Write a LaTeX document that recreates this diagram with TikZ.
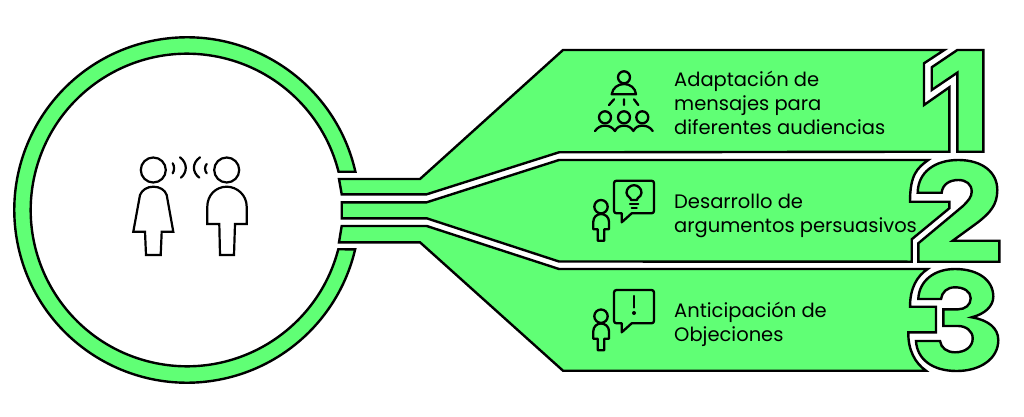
\documentclass[tikz,border=0pt]{standalone}
\usepackage{fontspec}
\setmainfont{Poppins}
\definecolor{brandgreen}{HTML}{60FF75}
\tikzset{
  band/.style={draw=black,fill=brandgreen,line width=2.4pt,line join=miter},
  icon/.style={draw=black,line width=2.3pt,line join=round,line cap=round},
  thin icon/.style={draw=black,line width=2.2pt,line join=miter,line cap=round},
  label/.style={anchor=west,align=left,inner sep=0pt,font=\fontsize{19.5}{24}\selectfont,text=black}
}
\begin{document}
\begin{tikzpicture}[x=1pt,y=-1pt]
\useasboundingbox (0,0) rectangle (1024,417);
\fill[white] (0,0) rectangle (1024,417);
% ring
\coordinate (c) at (187,210);
\draw[band] ([shift={(c)}]-12.8:172.7) arc[start angle=-12.8,end angle=-346.84,radius=172.7]
  -- ([shift={(c)}]14.56:156.3) arc[start angle=14.56,end angle=345.82,radius=156.3] -- cycle;
% band 1
\draw[band] (339,179) -- (420,179) -- (563,50) -- (944.3,50) -- (924,63.3) -- (924,105) -- (949.3,87.3)
  -- (949.3,151.7) -- (559,152.3) -- (426.7,194.3) -- (341.7,194.3) -- cycle;
% band 2
\draw[band] (341.7,202.3) -- (426.7,202.3) -- (559,160) -- (928.3,160)
  .. controls (917,168) and (910,175) .. (910,201.7) -- (949.3,201.7) -- (949.3,208.3) -- (911.7,239.3)
  -- (911.7,261.7) -- (559,261.5) -- (426.7,218.3) -- (341.7,218.3) -- cycle;
% band 3
\draw[band] (341.7,226) -- (426.7,226) -- (559,269) -- (927.7,269)
  .. controls (917,276) and (910,288) .. (910,306.7) -- (936,306.7) -- (936,332.3) -- (908.3,332.3)
  .. controls (908,350) and (915,363) .. (926,370.7) -- (563,370.7) -- (420,242.3) -- (339,242.3) -- cycle;
% one
\draw[band] (957.3,50) -- (983.3,50) -- (983.3,151.7) -- (957.3,151.7) -- (957.3,72.7) -- (931.7,90) -- (931.7,67.3) -- cycle;
% two
\draw[band] (917.7,192.7) .. controls (918,172) and (935,160) .. (958.3,160)
  .. controls (982,160) and (997.3,172) .. (997.3,190)
  .. controls (997.3,205) and (990,213) .. (977,223) -- (952.7,240.7) -- (999.3,240.7) -- (999.3,261.7) -- (918.3,261.7) -- (918.3,243.3)
  -- (963,206) .. controls (968,201) and (971.7,197) .. (971.7,191.7)
  .. controls (971.7,184) and (966,180) .. (958.3,180)
  .. controls (950,180) and (942.5,184) .. (941.7,192.7) -- cycle;
% three
\draw[band] (918.3,299) .. controls (919,281) and (934,269) .. (955,269)
  .. controls (978,269) and (993.3,280) .. (993.3,296.7)
  .. controls (993.3,306) and (985,314) .. (971.7,317.3)
  .. controls (988,320) and (998.3,328) .. (998.3,340)
  .. controls (998.3,359) and (980,371) .. (956.7,371)
  .. controls (932,371) and (917,359) .. (916,341) -- (940,341)
  .. controls (941,348) and (947,352.3) .. (955,352.3)
  .. controls (965,352.3) and (972.7,347) .. (972.7,338.3)
  .. controls (972.7,331) and (966,326) .. (958,326) -- (943.3,326) -- (943.3,309.3) -- (958.3,309.3)
  .. controls (965,309.3) and (970.7,305) .. (970.7,298.3)
  .. controls (970.7,291.5) and (964,287.3) .. (955,287.3)
  .. controls (947,287.3) and (942,292) .. (941,299) -- cycle;
% two people
\draw[thin icon] (153.3,170) circle[radius=12.5];
\draw[thin icon] (226.7,170) circle[radius=12.5];
\draw[thin icon] (133.3,231.7) -- (145,231.7) -- (146,255) -- (160.7,255) -- (161.7,231.7) -- (173.3,231.7) -- (166.7,195)
  .. controls (165,190) and (160,186.7) .. (153.3,186.7) .. controls (147,186.7) and (142,190) .. (140,195) -- cycle;
\draw[thin icon] (207.3,224) -- (219.3,224) -- (220,255) -- (234,255) -- (235,224) -- (246.7,224) -- (246.7,206.7)
  .. controls (246.7,195) and (237,186.7) .. (226.7,186.7) .. controls (216,186.7) and (207.3,195) .. (207.3,206.7) -- cycle;
\draw[thin icon] (172.7,163.3) .. controls (174.5,166) and (174.5,170.5) .. (172.7,173.3);
\draw[thin icon] (180,157.3) .. controls (187.5,163) and (187.5,172) .. (181,177.7);
\draw[thin icon] (200,157.3) .. controls (192,163) and (192,172) .. (199.3,177.7);
\draw[thin icon] (206.7,164) .. controls (204.5,166.5) and (204.5,170.5) .. (206.7,173.3);
% audience icon
\draw[icon] (624,77.3) circle[radius=6];
\draw[icon] (611.7,94.3) .. controls (612.5,88) and (618,84) .. (624,84) .. controls (630,84) and (635.5,88) .. (636,94.3) -- cycle;
\draw[icon] (609,105) -- (614,99.3) (624,99.3) -- (624,105) (634,99.3) -- (638.3,105);
\draw[icon] (605,117.3) circle[radius=6] (624,117.3) circle[radius=6] (642.3,117.3) circle[radius=6];
\draw[icon] (595,131) .. controls (598,127) and (601,125.7) .. (605,125.7) .. controls (609,125.7) and (612,127) .. (615,131)
  .. controls (617,127) and (620,125.7) .. (624,125.7) .. controls (628,125.7) and (631,127) .. (633.3,131)
  .. controls (635.5,127) and (638.5,125.7) .. (642.3,125.7) .. controls (646.5,125.7) and (650,127) .. (652.7,131);
% idea icon
\draw[icon] (616.5,180.7) -- (651.5,180.7) .. controls (653,180.7) and (654,181.7) .. (654,183.2) -- (654,210.8)
  .. controls (654,212.3) and (653,213.3) .. (651.5,213.3) -- (631.7,213.3) -- (621.7,222.3) -- (621.7,213.3) -- (616.5,213.3)
  .. controls (615,213.3) and (614,212.3) .. (614,210.8) -- (614,183.2) .. controls (614,181.7) and (615,180.7) .. (616.5,180.7) -- cycle;
\draw[icon] (631,200) -- (630.5,198.5) .. controls (628,196.5) and (626.5,195) .. (626.5,192.7)
  .. controls (626.5,188.5) and (630,185.2) .. (634,185.2) .. controls (638,185.2) and (641.5,188.5) .. (641.5,192.7)
  .. controls (641.5,195) and (640,196.5) .. (637.5,198.5) -- (637,200) -- cycle;
\draw[icon] (630,204) -- (638.3,204) (631.7,207.7) -- (636.7,207.7);
\draw[icon] (601,206.7) circle[radius=6.7];
\draw[icon] (593.3,229.3) -- (597.7,229.3) -- (597.7,240.7) -- (604.3,240.7) -- (604.3,229.3) -- (609,229.3) -- (609,221.7)
  .. controls (609,217) and (605,214) .. (601,214) .. controls (597,214) and (593.3,217) .. (593.3,221.7) -- cycle;
% objection icon
\draw[icon] (616.5,290) -- (651.5,290) .. controls (653,290) and (654,291) .. (654,292.5) -- (654,320.8)
  .. controls (654,322.3) and (653,323.3) .. (651.5,323.3) -- (631.7,323.3) -- (621.7,332.3) -- (621.7,323.3) -- (616.5,323.3)
  .. controls (615,323.3) and (614,322.3) .. (614,320.8) -- (614,292.5) .. controls (614,291) and (615,290) .. (616.5,290) -- cycle;
\draw[icon] (634,296) -- (634,307.5);
\fill (634,313) circle[radius=2];
\draw[icon] (601,316.2) circle[radius=6.7];
\draw[icon] (593.3,338.8) -- (597.7,338.8) -- (597.7,350.2) -- (604.3,350.2) -- (604.3,338.8) -- (609,338.8) -- (609,331.2)
  .. controls (609,326.5) and (605,323.5) .. (601,323.5) .. controls (597,323.5) and (593.3,326.5) .. (593.3,331.2) -- cycle;
% labels
\node[label] (t1) at (674,102.5) {Adaptación de\\mensajes para\\diferentes audiencias};
\node[label] (t2) at (674,215.5) {Desarrollo de\\argumentos persuasivos};
\node[label] (t3) at (674,324.5) {Anticipación de\\Objeciones};
\end{tikzpicture}
\end{document}
